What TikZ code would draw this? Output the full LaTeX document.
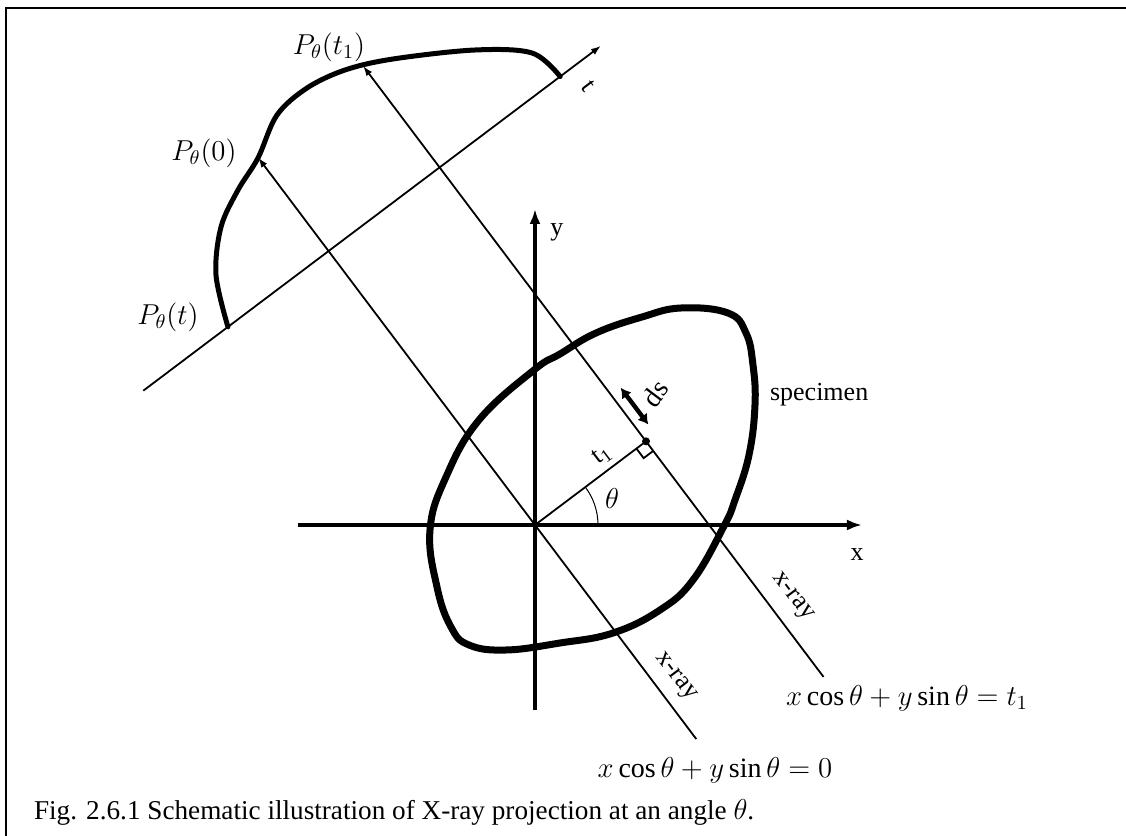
\documentclass[tikz,border=0pt]{standalone}
\usepackage{fontspec}
\setmainfont{Liberation Serif}
\usetikzlibrary{arrows.meta,calc}

\begin{document}
\begin{tikzpicture}[x=0.5pt,y=0.5pt,font=\fontsize{13}{15}\selectfont]
  \tikzstyle{axis}=[-{Latex[length=7.5pt,width=5.5pt]},line width=1.6pt]
  \tikzstyle{ray}=[-{Latex[length=5pt,width=3.5pt]},line width=0.9pt]
  \tikzstyle{rod}=[line width=0.9pt]
  \tikzstyle{mth}=[font=\fontsize{14}{16}\selectfont]

  \useasboundingbox (-535,-311) rectangle (591,525);
  \draw[line width=1.4pt] (-529,-311) -- (-529,517) -- (591,517);

  % axes
  \coordinate (O) at (0,0);
  \coordinate (xl) at (-237,0);
  \coordinate (xr) at (327,0);
  \coordinate (yb) at (0,-185);
  \coordinate (yt) at (0,316);
  \draw[axis] (xl) -- (xr);
  \draw[axis] (yb) -- (yt);
  \node (xlab) at (322,-30) {x};
  \node (ylab) at (22,293) {y};

  % rays at angle theta
  \coordinate (D) at (37:139);
  \coordinate (r0top) at (127:460);
  \coordinate (r0bot) at (-53:268);
  \coordinate (r1top) at ($(D)+(127:470)$);
  \coordinate (r1bot) at ($(D)+(-53:295)$);
  \draw[ray] (r0bot) -- (r0top);
  \draw[ray] (r1bot) -- (r1top);
  \node[rotate=-53] (ray0lab) at (140,-152) {x-ray};
  \node[rotate=-53] (ray1lab) at (257,-72) {x-ray};

  % detector axis
  \coordinate (tbase) at (127:343);
  \coordinate (ttail) at ($(tbase)+(217:232)$);
  \coordinate (ttip) at ($(tbase)+(37:341)$);
  \coordinate (pstart) at ($(tbase)+(217:126)$);
  \coordinate (pend) at ($(tbase)+(37:290)$);
  \draw[ray] (ttail) -- (ttip);
  \node[rotate=-53] (tlab) at (53,439) {t};

  % projection profile
  \draw[line width=2.5pt,line cap=round] plot[smooth,tension=0.55] coordinates {(pstart) (-319,250) (-314,298) (-297,335) (-277,367) (-258,410) (-228,437) (-190,455) (-142,466) (-60,475) (-3,472) (pend)};
  \node[mth] (p1) at (-206,478) {$P_\theta(t_1)$};
  \node[mth] (p0) at (-331,372) {$P_\theta(0)$};
  \node[mth] (pt) at (-367,208) {$P_\theta(t)$};

  % specimen
  \draw[line width=3.5pt] plot[smooth cycle,tension=0.7] coordinates {(218,160) (220,120) (214,70) (200,25) (189,-1) (158,-55) (125,-85) (78,-108) (25,-118) (-29,-125) (-66,-120) (-84,-102) (-98,-62) (-105,-5) (-89,48) (-56,105) (-1,155) (25,171) (61,192) (107,208) (146,217) (193,212) (211,192)};
  \node[anchor=west] (spec) at (228,130) {specimen};

  % distance t1, angle, element ds
  \draw[rod] (O) -- (D);
  \draw[rod] (D) ++(217:12) -- ++(-53:12) -- ++(37:12);
  \fill (D) circle (4);
  \node[rotate=37] (t1lab) at (67,70) {t\textsubscript{1}};
  \draw[line width=0.5pt] (63,0) arc[start angle=0,end angle=37,radius=63];
  \node[mth] (thlab) at (77,27) {$\theta$};
  \coordinate (dsA) at ($(D)+(127:12)+(37:12)$);
  \coordinate (dsB) at ($(D)+(127:58)+(37:12)$);
  \draw[{Latex[length=5pt,width=6pt]}-{Latex[length=5pt,width=6pt]},line width=2.2pt] (dsA) -- (dsB);
  \node[rotate=53,font=\fontsize{14}{16}\selectfont] (dslab) at ($(D)+(127:33)+(37:36)$) {ds};

  % equations of the two rays
  \node[mth] (eq0) at (180,-245) {$x\cos\theta+y\sin\theta=0$};
  \node[mth] (eq1) at (372,-173) {$x\cos\theta+y\sin\theta=t_1$};

  \node[anchor=west,font=\fontsize{13.6}{16}\selectfont] (cap) at (-508,-287) {Fig. 2.6.1 Schematic illustration of X-ray projection at an angle $\theta$.};
\end{tikzpicture}
\end{document}
